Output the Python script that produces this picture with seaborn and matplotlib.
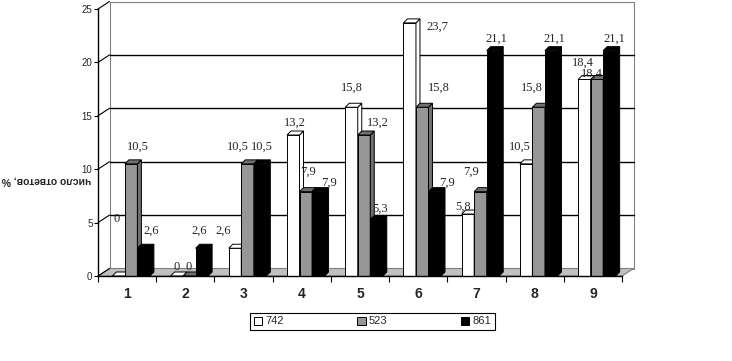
import numpy as np
import pandas as pd
import matplotlib
matplotlib.use("Agg")
import matplotlib.pyplot as plt
from matplotlib.patches import Polygon, Rectangle
import seaborn as sns

# ---------------- data ----------------
categories = ['1', '2', '3', '4', '5', '6', '7', '8', '9']
series_names = ['742', '523', '861']
s742 = [0, 0, 2.6, 13.2, 15.8, 23.7, 5.8, 10.5, 18.4]
s523 = [10.5, 0, 10.5, 7.9, 13.2, 15.8, 7.9, 15.8, 18.4]
s861 = [2.6, 2.6, 10.5, 7.9, 5.3, 7.9, 21.1, 21.1, 21.1]
y_ticks = [0, 5, 10, 15, 20, 25]
y_label = 'число ответов, %'

# label offsets in pixels (relative to bar's top-right corner)
off742 = [(-8, 57), (-6, 9), (-18, 17), (-5, 12), (-6, 20), (21, -4), (-11, 7), (-13, 17), (-8, 17)]
off523 = [(0, 17), (-6.5, 9), (-16, 17), (-4, 20), (8, 12), (10, 20), (-15.5, 20), (-13, 20), (-11, 5.5)]
off861 = [(1, 17), (-9, 17), (-4, 17), (4.5, 9), (-3, 11), (6, 9), (-3, 12), (-3, 12), (-1.5, 12)]

front_colors = ['#ffffff', '#969696', '#000000']
side_colors = ['#ffffff', '#707070', '#000000']

df = pd.DataFrame({
    'cat': categories * 3,
    'val': s742 + s523 + s861,
    'series': [series_names[0]] * 9 + [series_names[1]] * 9 + [series_names[2]] * 9,
})

sns.set_theme(style='white')
plt.rcParams['font.family'] = ['Liberation Sans', 'DejaVu Sans']

fig = plt.figure(figsize=(7.32, 3.61), dpi=100)
ax = fig.add_axes([98 / 732, (361 - 276) / 361, 524 / 732, 267 / 361])

sns.barplot(data=df, x='cat', y='val', hue='series', order=categories,
            hue_order=series_names, palette=front_colors, width=0.645,
            dodge=True, edgecolor='black', linewidth=0.7, saturation=1,
            legend=False, ax=ax)

ax.set_xlim(-0.5, 8.5)
ax.set_ylim(0, 25)

# 3D geometry in data units
DX, DY = 11.5 / 58.2, 7.5 / 10.68     # wall depth
dxb, dyb = 4 / 58.2, 4 / 10.68        # bar depth
shift = 4 / 58.2

# back wall, floor
wall = Rectangle((-0.5 + DX, DY), 9, 25, facecolor='white', edgecolor='#808080',
                 lw=0.8, zorder=0.5, clip_on=False)
ax.add_patch(wall)
floor = Polygon([(-0.5, 0), (8.5, 0), (8.5 + DX, DY), (-0.5 + DX, DY)],
                closed=True, facecolor='#c0c0c0', edgecolor='#808080', lw=0.8,
                zorder=0.6, clip_on=False)
ax.add_patch(floor)
for v in y_ticks[1:-1]:
    ax.plot([-0.5 + DX, 8.5 + DX], [v + DY, v + DY], color='black', lw=1,
            zorder=0.7, clip_on=False)
for v in y_ticks:
    ax.plot([-0.5, -0.5 + DX], [v, v + DY], color='black', lw=0.8,
            zorder=0.7, clip_on=False)

# bars with 3D faces and labels
offsets = [off742, off523, off861]
for j, cont in enumerate(ax.containers):
    for i, p in enumerate(cont):
        p.set_x(p.get_x() + shift)
        L = p.get_x()
        W = p.get_width()
        R = L + W
        T = p.get_height()
        z = 2 + 0.01 * (3 * i + j)
        p.set_zorder(z)
        top = Polygon([(L, T), (R, T), (R + dxb, T + dyb), (L + dxb, T + dyb)],
                      closed=True, facecolor=side_colors[j] if j == 1 else front_colors[j],
                      edgecolor='black', lw=0.7, zorder=z, clip_on=False)
        side = Polygon([(R, 0), (R + dxb, dyb), (R + dxb, T + dyb), (R, T)],
                       closed=True, facecolor=side_colors[j], edgecolor='black',
                       lw=0.7, zorder=z, clip_on=False)
        ax.add_patch(side)
        ax.add_patch(top)
        v = T
        txt = '0' if v == 0 else f'{v:.1f}'.replace('.', ',')
        dx, dy = offsets[j][i]
        ax.annotate(txt, xy=(R, v), xytext=(dx, dy), textcoords='offset pixels',
                    ha='center', va='center', fontsize=9,
                    family=['Liberation Serif', 'DejaVu Serif'], zorder=10,
                    annotation_clip=False)

# axes styling
for s in ['top', 'right']:
    ax.spines[s].set_visible(False)
for s in ['left', 'bottom']:
    ax.spines[s].set_color('black')
    ax.spines[s].set_linewidth(1)
    ax.spines[s].set_zorder(5)

ax.set_yticks(y_ticks)
ax.set_yticklabels([str(v) for v in y_ticks], fontsize=7)
ax.tick_params(axis='y', which='major', direction='out', length=3, width=0.8,
               color='black', pad=1, left=True)

boundaries = np.arange(-0.5, 9, 1.0)
ax.set_xticks(boundaries)
ax.set_xticklabels([''] * len(boundaries))
ax.tick_params(axis='x', which='major', direction='out', length=4, width=0.8,
               color='black', bottom=True)
ax.set_xticks(np.arange(len(categories)), categories, minor=True)
ax.tick_params(axis='x', which='minor', length=0, pad=8, labelsize=10)
for t in ax.get_xticklabels(minor=True):
    t.set_fontweight('bold')

ax.set_xlabel('')
ax.set_ylabel('')
ax.grid(False)
ax.set_facecolor('none')

fig.text(46 / 732, 1 - 180 / 361, y_label, rotation=180, ha='center', va='center',
         fontsize=7.5, fontweight='bold')

# legend
handles = [Rectangle((0, 0), 1, 1, facecolor=c, edgecolor='black', lw=0.7)
           for c in front_colors]
leg = fig.legend(handles, series_names, loc='center', ncol=3,
                 bbox_to_anchor=(372.5 / 732, 1 - 321.5 / 361),
                 fontsize=8, frameon=True, fancybox=False, shadow=False,
                 handlelength=0.75, handleheight=0.75, handletextpad=0.3,
                 columnspacing=6.6, borderpad=0.3, borderaxespad=0)
leg.get_frame().set_edgecolor('black')
leg.get_frame().set_linewidth(0.8)
leg.get_frame().set_alpha(1)

fig.savefig('out.png', dpi=100)
